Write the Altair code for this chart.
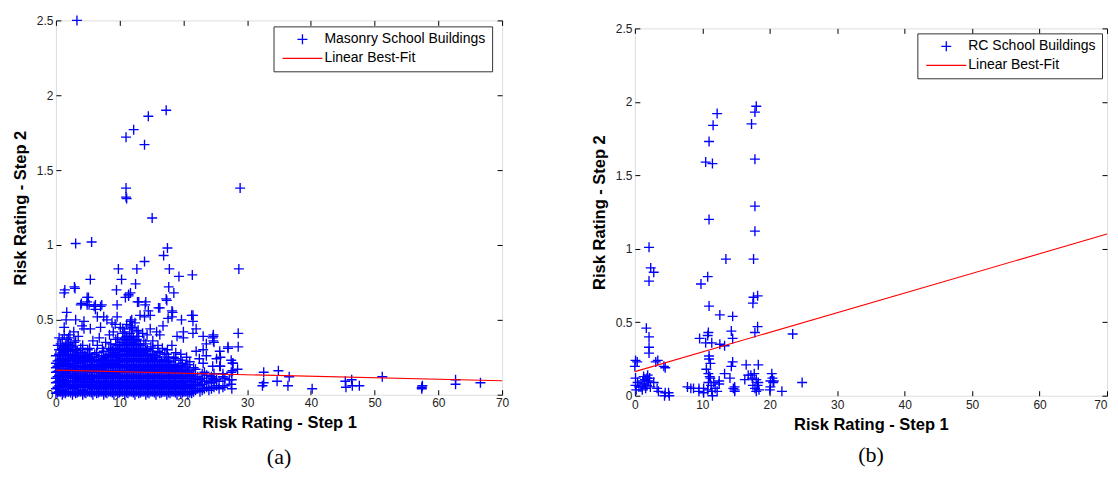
import altair as alt
import pandas as pd

FONT = "Liberation Sans"
SERIF = "Liberation Serif"
BLUE = "#0000ff"
RED = "#ff0000"
CROSS = "M-1,0L1,0M0,-1L0,1"
DASH = "M-4,0L4,0"

x_ticks = [0, 10, 20, 30, 40, 50, 60, 70]
y_ticks = [0, 0.5, 1, 1.5, 2, 2.5]
fit_label = "Linear Best-Fit"

# ---------------- panel (a): masonry ----------------
masonry_label = "Masonry School Buildings"

# dense cloud, read column by column (x) with the y values seen in each column
masonry_col_x = [0.0, 0.5, 1.0, 1.5, 2.0, 2.6, 3.1, 3.6, 4.2, 4.7, 5.3, 5.8, 6.4, 6.9,
                 7.5, 8.0, 8.6, 9.1, 9.7, 10.2, 10.8, 11.3, 11.9, 12.4, 13.0, 13.5,
                 14.1, 14.6, 15.2, 15.7, 16.3, 16.8, 17.4, 17.9, 18.5, 19.0, 19.6,
                 20.1, 20.7, 21.3, 21.9, 22.6, 23.3, 24.0, 24.8, 25.6, 26.5]
masonry_col_y = [
    [0.01, 0.04, 0.08, 0.11, 0.15, 0.18, 0.21, 0.26],
    [0.02, 0.06, 0.09, 0.13, 0.16, 0.20, 0.23, 0.27, 0.30],
    [0.00, 0.03, 0.07, 0.10, 0.14, 0.17, 0.21, 0.24, 0.28, 0.31, 0.37],
    [0.01, 0.05, 0.08, 0.12, 0.15, 0.19, 0.22, 0.26, 0.29, 0.33],
    [0.02, 0.06, 0.09, 0.13, 0.17, 0.20, 0.24, 0.27, 0.31, 0.34, 0.38],
    [0.00, 0.04, 0.07, 0.11, 0.14, 0.18, 0.21, 0.25, 0.29, 0.32],
    [0.01, 0.05, 0.09, 0.12, 0.16, 0.19, 0.23, 0.26, 0.30, 0.36],
    [0.02, 0.06, 0.10, 0.13, 0.17, 0.21, 0.24, 0.28],
    [0.00, 0.03, 0.07, 0.11, 0.14, 0.18, 0.22, 0.25, 0.28, 0.33],
    [0.01, 0.05, 0.08, 0.12, 0.16, 0.19, 0.23, 0.26],
    [0.02, 0.06, 0.10, 0.13, 0.17, 0.20, 0.24, 0.27, 0.31],
    [0.00, 0.04, 0.07, 0.11, 0.15, 0.18, 0.22, 0.25],
    [0.01, 0.05, 0.08, 0.12, 0.16, 0.19, 0.23, 0.28],
    [0.02, 0.06, 0.09, 0.13, 0.17, 0.20, 0.23],
    [0.00, 0.04, 0.07, 0.11, 0.14, 0.18, 0.21, 0.24, 0.29],
    [0.01, 0.05, 0.08, 0.12, 0.15, 0.19, 0.22, 0.26],
    [0.02, 0.06, 0.09, 0.13, 0.16, 0.20, 0.23, 0.27, 0.30, 0.34],
    [0.00, 0.04, 0.07, 0.11, 0.14, 0.18, 0.21, 0.25, 0.28, 0.31],
    [0.01, 0.05, 0.08, 0.12, 0.15, 0.19, 0.22, 0.26, 0.30, 0.33, 0.38],
    [0.02, 0.06, 0.09, 0.13, 0.16, 0.20, 0.24, 0.27, 0.31, 0.35],
    [0.00, 0.04, 0.07, 0.11, 0.15, 0.18, 0.22, 0.26, 0.29, 0.33, 0.37, 0.42],
    [0.01, 0.05, 0.08, 0.12, 0.16, 0.19, 0.23, 0.27, 0.30, 0.34, 0.38],
    [0.02, 0.06, 0.09, 0.13, 0.17, 0.20, 0.24, 0.28, 0.31, 0.35, 0.39, 0.44],
    [0.00, 0.04, 0.07, 0.11, 0.15, 0.18, 0.22, 0.26, 0.29, 0.33, 0.36],
    [0.01, 0.05, 0.08, 0.12, 0.16, 0.19, 0.23, 0.27, 0.30, 0.34, 0.39],
    [0.02, 0.06, 0.09, 0.13, 0.17, 0.20, 0.24, 0.28, 0.31],
    [0.00, 0.04, 0.07, 0.11, 0.15, 0.18, 0.22, 0.26, 0.29, 0.34],
    [0.01, 0.05, 0.08, 0.12, 0.16, 0.19, 0.23, 0.27],
    [0.02, 0.06, 0.09, 0.13, 0.17, 0.20, 0.24, 0.27, 0.31],
    [0.00, 0.04, 0.07, 0.11, 0.15, 0.18, 0.22, 0.25],
    [0.01, 0.05, 0.08, 0.12, 0.16, 0.19, 0.23, 0.28],
    [0.02, 0.06, 0.09, 0.13, 0.17, 0.20, 0.23],
    [0.00, 0.04, 0.07, 0.11, 0.15, 0.18, 0.22, 0.27],
    [0.01, 0.05, 0.08, 0.12, 0.16, 0.19, 0.22],
    [0.02, 0.06, 0.09, 0.13, 0.17, 0.20, 0.25],
    [0.00, 0.04, 0.07, 0.11, 0.15, 0.18],
    [0.01, 0.05, 0.08, 0.12, 0.16, 0.19, 0.23],
    [0.02, 0.06, 0.09, 0.13, 0.17],
    [0.00, 0.04, 0.07, 0.11, 0.15, 0.20],
    [0.01, 0.05, 0.09, 0.13],
    [0.03, 0.07, 0.11, 0.17],
    [0.02, 0.06, 0.10],
    [0.04, 0.09, 0.15],
    [0.03, 0.08],
    [0.05, 0.10, 0.14],
    [0.04, 0.09],
    [0.06, 0.11],
]
# second pass over the cloud, between the columns above
masonry_col2_x = [0.25, 0.75, 1.25, 1.75, 2.3, 2.85, 3.35, 3.9, 4.45, 5.0, 5.55, 6.1,
                  6.65, 7.2, 7.75, 8.3, 8.85, 9.4, 9.95, 10.5, 11.05, 11.6, 12.15, 12.7,
                  13.25, 13.8, 14.35, 14.9, 15.45, 16.0, 16.55, 17.1, 17.65, 18.2, 18.75,
                  19.3, 19.85, 20.4, 21.0, 21.6, 22.25, 22.95, 23.65, 24.4, 25.2]
masonry_col2_y = [
    [0.015, 0.05, 0.085, 0.12, 0.155, 0.19, 0.225],
    [0.02, 0.055, 0.09, 0.125, 0.16, 0.195, 0.23, 0.265, 0.30, 0.34],
    [0.015, 0.05, 0.085, 0.12, 0.155, 0.19, 0.225, 0.26, 0.295, 0.32],
    [0.02, 0.055, 0.09, 0.125, 0.16, 0.195, 0.23, 0.265, 0.30, 0.335, 0.37],
    [0.015, 0.05, 0.085, 0.12, 0.155, 0.19, 0.225, 0.26, 0.295, 0.33],
    [0.02, 0.055, 0.09, 0.125, 0.16, 0.195, 0.23, 0.265, 0.30, 0.35],
    [0.015, 0.05, 0.085, 0.12, 0.155, 0.19, 0.225, 0.26, 0.295],
    [0.02, 0.055, 0.09, 0.125, 0.16, 0.195, 0.23, 0.265, 0.31],
    [0.015, 0.05, 0.085, 0.12, 0.155, 0.19, 0.225, 0.26],
    [0.02, 0.055, 0.09, 0.125, 0.16, 0.195, 0.23, 0.265, 0.30],
    [0.015, 0.05, 0.085, 0.12, 0.155, 0.19, 0.225, 0.25],
    [0.02, 0.055, 0.09, 0.125, 0.16, 0.195, 0.23, 0.27],
    [0.015, 0.05, 0.085, 0.12, 0.155, 0.19, 0.225],
    [0.02, 0.055, 0.09, 0.125, 0.16, 0.195, 0.23, 0.26],
    [0.015, 0.05, 0.085, 0.12, 0.155, 0.19, 0.225, 0.25],
    [0.02, 0.055, 0.09, 0.125, 0.16, 0.195, 0.23, 0.265, 0.31],
    [0.015, 0.05, 0.085, 0.12, 0.155, 0.19, 0.225, 0.26, 0.295],
    [0.02, 0.055, 0.09, 0.125, 0.16, 0.195, 0.23, 0.265, 0.30, 0.335, 0.37],
    [0.015, 0.05, 0.085, 0.12, 0.155, 0.19, 0.225, 0.26, 0.295, 0.33],
    [0.02, 0.055, 0.09, 0.125, 0.16, 0.195, 0.23, 0.265, 0.30, 0.335, 0.37, 0.41],
    [0.015, 0.05, 0.085, 0.12, 0.155, 0.19, 0.225, 0.26, 0.295, 0.33, 0.365, 0.39],
    [0.02, 0.055, 0.09, 0.125, 0.16, 0.195, 0.23, 0.265, 0.30, 0.335, 0.37, 0.41, 0.46],
    [0.015, 0.05, 0.085, 0.12, 0.155, 0.19, 0.225, 0.26, 0.295, 0.33, 0.38],
    [0.02, 0.055, 0.09, 0.125, 0.16, 0.195, 0.23, 0.265, 0.30, 0.335, 0.37, 0.42],
    [0.015, 0.05, 0.085, 0.12, 0.155, 0.19, 0.225, 0.26, 0.295, 0.33],
    [0.02, 0.055, 0.09, 0.125, 0.16, 0.195, 0.23, 0.265, 0.30, 0.36],
    [0.015, 0.05, 0.085, 0.12, 0.155, 0.19, 0.225, 0.26, 0.30],
    [0.02, 0.055, 0.09, 0.125, 0.16, 0.195, 0.23, 0.265, 0.32],
    [0.015, 0.05, 0.085, 0.12, 0.155, 0.19, 0.225, 0.26],
    [0.02, 0.055, 0.09, 0.125, 0.16, 0.195, 0.23, 0.29],
    [0.015, 0.05, 0.085, 0.12, 0.155, 0.19, 0.225],
    [0.02, 0.055, 0.09, 0.125, 0.16, 0.195, 0.23, 0.27],
    [0.015, 0.05, 0.085, 0.12, 0.155, 0.19, 0.225, 0.25],
    [0.02, 0.055, 0.09, 0.125, 0.16, 0.195],
    [0.015, 0.05, 0.085, 0.12, 0.155, 0.19, 0.24],
    [0.02, 0.055, 0.09, 0.125, 0.16, 0.195],
    [0.015, 0.05, 0.085, 0.12, 0.155, 0.21],
    [0.02, 0.055, 0.09, 0.125, 0.16, 0.185],
    [0.015, 0.05, 0.085, 0.12, 0.16],
    [0.02, 0.06, 0.10, 0.14, 0.18],
    [0.04, 0.08, 0.12],
    [0.03, 0.07, 0.11, 0.14],
    [0.05, 0.09, 0.13],
    [0.04, 0.08, 0.12],
    [0.06, 0.10],
]

# scattered points above the cloud and the outliers
masonry_scatter = [
    (3.3, 2.50), (17.3, 1.90), (14.5, 1.86), (12.2, 1.77), (11.0, 1.72), (13.9, 1.67),
    (11.0, 1.38), (11.0, 1.32), (11.1, 1.31), (28.9, 1.38), (15.1, 1.18), (3.1, 1.01),
    (5.6, 1.02), (17.5, 0.98), (16.9, 0.93), (13.9, 0.89), (9.8, 0.84), (12.7, 0.84),
    (17.8, 0.84), (28.7, 0.84), (21.4, 0.80), (19.3, 0.79), (5.4, 0.77), (10.3, 0.77),
    (12.5, 0.74), (2.9, 0.72), (3.0, 0.71), (1.4, 0.70), (1.3, 0.68), (9.5, 0.70),
    (17.7, 0.72), (18.5, 0.68), (11.4, 0.66), (11.7, 0.68), (5.1, 0.65), (17.3, 0.64),
    (4.0, 0.61), (4.9, 0.60), (6.2, 0.60), (7.2, 0.60), (9.6, 0.60), (13.0, 0.62),
    (14.1, 0.62), (16.3, 0.58), (18.3, 0.55), (21.5, 0.53), (21.5, 0.49), (1.7, 0.55),
    (1.6, 0.50), (28.6, 0.41), (28.6, 0.32), (27.0, 0.31), (24.7, 0.39), (24.8, 0.35),
    (27.8, 0.21), (28.5, 0.17),
    (1.3, 0.45), (3.1, 0.50), (4.4, 0.49), (4.1, 0.46), (4.9, 0.62), (4.9, 0.65),
    (6.0, 0.59), (7.0, 0.59), (6.2, 0.57), (6.5, 0.52), (7.5, 0.52), (4.4, 0.44),
    (5.4, 0.44), (1.3, 0.40), (8.0, 0.50), (8.8, 0.48), (9.6, 0.52), (11.4, 0.67),
    (10.9, 0.65), (11.9, 0.50), (11.7, 0.49), (12.4, 0.48), (13.2, 0.53), (13.9, 0.52),
    (14.8, 0.53), (12.8, 0.62), (14.0, 0.60), (14.5, 0.56), (16.1, 0.58), (17.6, 0.51),
    (16.8, 0.46), (17.4, 0.63), (18.2, 0.56), (18.2, 0.52), (19.7, 0.50), (21.3, 0.53),
    (20.0, 0.42), (21.5, 0.41), (22.0, 0.44), (23.1, 0.39), (24.7, 0.40), (23.6, 0.34),
    (24.7, 0.36), (25.7, 0.29), (27.5, 0.23), (27.5, 0.15), (27.0, 0.32), (14.8, 0.44),
    (15.8, 0.42), (16.3, 0.40), (9.3, 0.47), (10.1, 0.45), (7.0, 0.45), (3.9, 0.60),
    (5.2, 0.60), (18.2, 0.33), (19.0, 0.39), (20.0, 0.38), (22.0, 0.29), (22.5, 0.24),
    (23.6, 0.26), (25.2, 0.24), (25.7, 0.19), (26.2, 0.14), (27.2, 0.10), (27.5, 0.07),
    (24.6, 0.38), (27.7, 0.21), (27.7, 0.16), (27.6, 0.10), (27.6, 0.04), (25.8, 0.25),
    (25.8, 0.19), (24.6, 0.19), (24.6, 0.11), (23.1, 0.30), (23.1, 0.21), (26.2, 0.12),
    (26.2, 0.05),
    (2.2, 0.40), (2.8, 0.42), (0.5, 0.38), (3.5, 0.39), (5.8, 0.36), (6.8, 0.38),
    (7.8, 0.35), (8.4, 0.40), (9.0, 0.42), (0.3, 0.33), (6.5, 0.33), (7.3, 0.31),
    (10.5, 0.44), (11.1, 0.47), (12.0, 0.45), (12.9, 0.43), (13.6, 0.41), (14.3, 0.40),
    (15.2, 0.36), (16.0, 0.33), (16.7, 0.31), (17.5, 0.30), (18.8, 0.28), (19.6, 0.27),
    (20.5, 0.25), (21.0, 0.22),
    (32.6, 0.15), (32.6, 0.08), (32.4, 0.06), (34.9, 0.16), (34.7, 0.09), (36.6, 0.12),
    (36.4, 0.06), (40.2, 0.04), (45.4, 0.09), (46.4, 0.10), (46.5, 0.06), (47.6, 0.06),
    (45.5, 0.05), (51.2, 0.12), (57.4, 0.05), (57.4, 0.04), (57.5, 0.06), (62.7, 0.10),
    (62.7, 0.07), (66.6, 0.08),
]
masonry_fit_x = [0, 70]
masonry_fit_y = [0.164, 0.093]

# ---------------- panel (b): RC ----------------
rc_label = "RC School Buildings"
rc_points = [
    (18.0, 1.97), (17.8, 1.93), (12.2, 1.92), (17.3, 1.85), (11.6, 1.84), (11.0, 1.73),
    (17.8, 1.61), (10.5, 1.59), (11.5, 1.58), (17.8, 1.29), (11.0, 1.20), (17.8, 1.12),
    (2.1, 1.01), (13.5, 0.93), (17.6, 0.93), (2.35, 0.87), (2.8, 0.84), (2.1, 0.78),
    (10.8, 0.81), (9.8, 0.76), (18.2, 0.68), (17.6, 0.67), (17.5, 0.63), (11.0, 0.61),
    (12.6, 0.55), (14.5, 0.54), (18.2, 0.47), (1.7, 0.46), (14.3, 0.44), (10.9, 0.43),
    (10.8, 0.41), (17.8, 0.43), (23.4, 0.42), (2.1, 0.40), (9.6, 0.39), (14.5, 0.39),
    (10.5, 0.36), (11.4, 0.36), (12.6, 0.35), (13.3, 0.34), (2.1, 0.33), (2.1, 0.29),
    (11.0, 0.27), (11.0, 0.25), (0.1, 0.24), (0.35, 0.23), (3.1, 0.23), (3.4, 0.24),
    (14.5, 0.23), (16.5, 0.21), (18.3, 0.21), (4.3, 0.20), (4.5, 0.19), (14.3, 0.20),
    (0.0, 0.20), (10.6, 0.18), (11.2, 0.22), (13.3, 0.15), (14.1, 0.12), (17.2, 0.14),
    (17.4, 0.12), (20.4, 0.12), (20.6, 0.10), (24.8, 0.09), (16.3, 0.11), (18.3, 0.09),
    (18.2, 0.07),
    (1.3, 0.13), (1.5, 0.11), (1.8, 0.12), (2.0, 0.10), (1.4, 0.08), (1.8, 0.07),
    (1.6, 0.05), (1.1, 0.04), (2.3, 0.06), (2.8, 0.09), (1.2, 0.10), (1.9, 0.14),
    (2.2, 0.12), (0.9, 0.06),
    (0.1, 0.12), (0.1, 0.07), (0.6, 0.06), (0.2, 0.04), (0.4, 0.09),
    (3.3, 0.05), (3.5, 0.03), (4.5, 0.02), (5.0, 0.02), (4.4, 0.00), (5.1, 0.00),
    (7.8, 0.06), (8.3, 0.05), (8.7, 0.05), (9.5, 0.05), (9.5, 0.03), (10.2, 0.05),
    (10.2, 0.02),
    (10.9, 0.15), (11.2, 0.12), (10.9, 0.09), (11.3, 0.07), (11.7, 0.09), (11.9, 0.05),
    (10.8, 0.04), (11.5, 0.00), (11.1, 0.13), (11.4, 0.03), (12.5, 0.08), (12.2, 0.03),
    (12.5, 0.10),
    (14.8, 0.06), (14.8, 0.04), (14.6, 0.05), (14.8, 0.03),
    (16.8, 0.14), (17.7, 0.15), (18.0, 0.11), (17.5, 0.07), (18.4, 0.04), (17.8, 0.05),
    (18.0, 0.03),
    (20.3, 0.15), (20.1, 0.10), (20.1, 0.06), (20.0, 0.04), (21.8, 0.03), (20.5, 0.09),
]
rc_fit_x = [0, 70]
rc_fit_y = [0.164, 1.10]


masonry_points = [(cx, cy) for cx, ys in zip(masonry_col_x, masonry_col_y) for cy in ys]
masonry_points += [(cx, cy) for cx, ys in zip(masonry_col2_x, masonry_col2_y) for cy in ys]
masonry_points += masonry_scatter


def panel(label, points, fit_x, fit_y, width, height, legend_xy, caption,
          x_lab_pad, x_title_pad, cap_offset, last_label_right):
    pts = pd.DataFrame(points, columns=["x", "y"])
    pts["series"] = label
    fit = pd.DataFrame({"x": fit_x, "y": fit_y})
    fit["series"] = fit_label
    domain = [label, fit_label]
    legend = alt.Legend(
        title=None, orient="none", legendX=legend_xy[0], legendY=legend_xy[1],
        fillColor="white", strokeColor="#333333", padding=6,
        labelFont=FONT, labelFontSize=14, labelColor="black", labelLimit=400,
        symbolSize=100, symbolStrokeWidth=1.3, symbolOffset=16, labelOffset=15,
        rowPadding=4,
    )
    color = alt.Color("series:N", scale=alt.Scale(domain=domain, range=[BLUE, RED]),
                      legend=legend)
    shape = alt.Shape("series:N", scale=alt.Scale(domain=domain, range=[CROSS, DASH]),
                      legend=legend)
    xs = alt.Scale(domain=[0, 70], nice=False, zero=False)
    ys = alt.Scale(domain=[0, 2.5], nice=False, zero=False)

    common = dict(offset=-5, tickSize=5, tickColor="black", tickWidth=1, domain=False,
                  grid=False, labelFont=FONT, labelFontSize=12, labelColor="#222222")
    if last_label_right:
        x_align = {"condition": {"test": "datum.value === 70", "value": "right"},
                   "value": "center"}
    else:
        x_align = "center"
    bottom = alt.Axis(orient="bottom", values=x_ticks, labelPadding=x_lab_pad,
                      labelFlush=False, labelAlign=x_align,
                      title="Risk Rating - Step 1", titleFont=FONT, titleFontSize=16.5,
                      titleFontWeight="bold", titleColor="black", titlePadding=x_title_pad,
                      labelOverlap=False, **common)
    left = alt.Axis(orient="left", values=y_ticks, format="~g", labelPadding=3,
                    title="Risk Rating - Step 2", titleFont=FONT, titleFontSize=16.5,
                    titleFontWeight="bold", titleColor="black", titlePadding=8,
                    labelOverlap=False, **common)
    top = alt.Axis(orient="top", values=x_ticks, labels=False, title=None, **common)
    right = alt.Axis(orient="right", values=y_ticks, labels=False, title=None, **common)

    scatter = alt.Chart(pts).mark_point(
        filled=False, size=100, strokeWidth=1.35, opacity=1
    ).encode(
        x=alt.X("x:Q", scale=xs, axis=bottom),
        y=alt.Y("y:Q", scale=ys, axis=left),
        color=color,
        shape=shape,
    )
    line = alt.Chart(fit).mark_line(strokeWidth=1.1).encode(
        x=alt.X("x:Q", scale=xs, axis=top),
        y=alt.Y("y:Q", scale=ys, axis=right),
        color=color,
    )
    return alt.layer(scatter, line).resolve_axis(x="independent", y="independent").properties(
        width=width, height=height,
        title=alt.TitleParams(caption, orient="bottom", anchor="middle", font=SERIF,
                              fontSize=22, fontWeight="normal", color="black",
                              offset=cap_offset),
    )


chart_a = panel(masonry_label, masonry_points, masonry_fit_x, masonry_fit_y,
                447, 375, (218, 6), "(a)", 3, 6, 16, False)
chart_b = panel(rc_label, rc_points, rc_fit_x, rc_fit_y,
                473, 368, (283, 13), "(b)", 4, 6, 12, True)

# an empty, almost zero-height band that lowers panel (b) a little, as in the reference
spacer = alt.Chart(pd.DataFrame({"s": [""]})).mark_text(opacity=0, fontSize=1).encode(
    text="s:N"
).properties(width=473, height=0.01, view=alt.ViewBackground(stroke="transparent"))

chart = alt.hconcat(
    chart_a, alt.vconcat(spacer, chart_b, spacing=0), spacing=80
).resolve_scale(
    color="independent", shape="independent"
).resolve_legend(
    color="independent", shape="independent"
).configure_view(
    stroke="black", strokeWidth=1
).configure(
    font=FONT
).properties(
    padding={"left": 3, "top": 3, "right": 0, "bottom": 0},
    background="white",
)

chart.save("out.html", embed_options={"renderer": "svg", "actions": False})
